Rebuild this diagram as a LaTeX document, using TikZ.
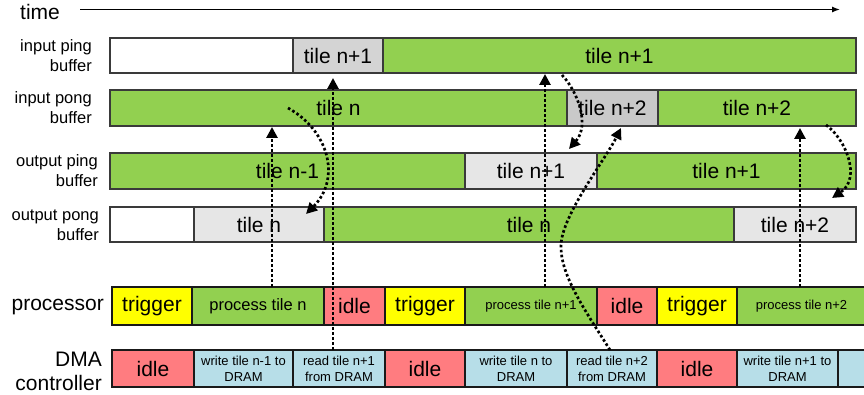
\documentclass[tikz,border=0pt]{standalone}
\usepackage{fontspec}
\setmainfont{Liberation Sans}
\usetikzlibrary{arrows.meta}

\definecolor{tgreen}{HTML}{92D050}
\definecolor{pinggray}{HTML}{D4D4D4}
\definecolor{ponggray}{HTML}{C9C9C9}
\definecolor{outgray}{HTML}{E6E6E6}
\definecolor{tyellow}{HTML}{FFFF00}
\definecolor{tred}{HTML}{FF7C80}
\definecolor{tblue}{HTML}{B7DEE8}
\definecolor{edgegray}{HTML}{3A3A3A}

% one timeline segment: name, x-left, x-right, y-top, y-bottom, style, text
\newcommand{\seg}[7]{%
  \node[#6, minimum width={#3-#2}, minimum height={#5-#4}]
    (#1) at ({(#2+#3)/2},{(#4+#5)/2}) {#7};}

\tikzset{
  bufbox/.style={draw=edgegray, line width=1.2pt, inner sep=0pt, outer sep=0pt,
    align=center, font=\fontsize{21}{24}\selectfont},
  unitbox/.style={draw=black!90, line width=2pt, inner sep=0pt, outer sep=0pt,
    align=center, font=\fontsize{21}{24}\selectfont},
  small/.style={font=\fontsize{13}{16}\selectfont},
  mid/.style={font=\fontsize{16.5}{19}\selectfont},
  rowlabel/.style={anchor=east, align=right, inner sep=0pt,
    font=\fontsize{16.5}{20}\selectfont},
  unitlabel/.style={anchor=east, align=right, inner sep=0pt,
    font=\fontsize{21}{23}\selectfont},
  handoff/.style={line width=2.7pt, dash pattern=on 2.6pt off 2.4pt,
    -{Triangle[length=11pt,width=11pt]}},
}

\begin{document}
\begin{tikzpicture}[x=1pt, y=-1pt]
\useasboundingbox (0,0) rectangle (864,395);

% time axis
\node[font=\fontsize{21}{24}\selectfont, inner sep=0pt] (timelbl) at (40,12) {time};
\coordinate (axisL) at (80,9.5);
\coordinate (axisR) at (840,9.5);
\draw[line width=1.2pt, -{Latex[length=8pt,width=6pt]}] (axisL) -- (axisR);

% row labels
\node[rowlabel] (lab1) at (92,56) {input ping\\buffer};
\node[rowlabel] (lab2) at (92,108) {input pong\\buffer};
\node[rowlabel] (lab3) at (98,171) {output ping\\buffer};
\node[rowlabel] (lab4) at (99,225) {output pong\\buffer};
\node[unitlabel] (lab5) at (104,307) {processor};
\node[unitlabel, font=\fontsize{21}{24}\selectfont] (lab6) at (102,371) {DMA\\controller};

% input ping buffer
\seg{r1a}{110}{293}{38}{73}{bufbox, fill=white}{}
\seg{r1b}{293}{383}{38}{73}{bufbox, fill=pinggray}{tile n+1}
\seg{r1c}{383}{856}{38}{73}{bufbox, fill=tgreen}{tile n+1}

% input pong buffer
\seg{r2a}{110}{567}{90}{126}{bufbox, fill=tgreen}{tile n}
\seg{r2b}{567}{658}{90}{126}{bufbox, fill=ponggray}{tile n+2}
\seg{r2c}{658}{856}{90}{126}{bufbox, fill=tgreen}{tile n+2}

% output ping buffer
\seg{r3a}{110}{465}{153}{189}{bufbox, fill=tgreen}{tile n-1}
\seg{r3b}{465}{597}{153}{189}{bufbox, fill=outgray}{tile n+1}
\seg{r3c}{597}{856}{153}{189}{bufbox, fill=tgreen}{tile n+1}

% output pong buffer
\seg{r4a}{110}{194}{207}{242}{bufbox, fill=white}{}
\seg{r4b}{194}{324}{207}{242}{bufbox, fill=outgray}{tile n}
\seg{r4c}{324}{734}{207}{242}{bufbox, fill=tgreen}{tile n}
\seg{r4d}{734}{856}{207}{242}{bufbox, fill=outgray}{tile n+2}

% processor
\seg{p1}{112}{192}{287}{325}{unitbox, fill=tyellow}{trigger}
\seg{p2}{192}{324}{287}{325}{unitbox, fill=tgreen, mid}{process tile n}
\seg{p3}{324}{385}{287}{325}{unitbox, fill=tred}{idle}
\seg{p4}{385}{465}{287}{325}{unitbox, fill=tyellow}{trigger}
\seg{p5}{465}{597}{287}{325}{unitbox, fill=tgreen, small}{process tile n+1}
\seg{p6}{597}{657}{287}{325}{unitbox, fill=tred}{idle}
\seg{p7}{657}{737}{287}{325}{unitbox, fill=tyellow}{trigger}
\seg{p8}{737}{866}{287}{325}{unitbox, fill=tgreen, small}{process tile n+2}

% DMA controller
\seg{d1}{112}{194}{350}{387}{unitbox, fill=tred}{idle}
\seg{d2}{194}{293}{350}{387}{unitbox, fill=tblue, small}{write tile n-1 to\\DRAM}
\seg{d3}{293}{385}{350}{387}{unitbox, fill=tblue, small}{read tile n+1\\from DRAM}
\seg{d4}{385}{465}{350}{387}{unitbox, fill=tred}{idle}
\seg{d5}{465}{567}{350}{387}{unitbox, fill=tblue, small}{write tile n to\\DRAM}
\seg{d6}{567}{657}{350}{387}{unitbox, fill=tblue, small}{read tile n+2\\from DRAM}
\seg{d7}{657}{737}{350}{387}{unitbox, fill=tred}{idle}
\seg{d8}{737}{838}{350}{387}{unitbox, fill=tblue, small}{write tile n+1 to\\DRAM}
\seg{d9}{838}{868}{350}{387}{unitbox, fill=tblue}{}

% hand-off points
\coordinate (h1s) at (272,287);  \coordinate (h1e) at (272,127);
\coordinate (h2s) at (333,350);  \coordinate (h2e) at (333,78);
\coordinate (h3s) at (288,108);  \coordinate (h3e) at (306,214);
\coordinate (h4s) at (545,287);  \coordinate (h4e) at (545,74);
\coordinate (h5s) at (562,75);   \coordinate (h5e) at (569,149);
\coordinate (h6s) at (610,350);  \coordinate (h6m) at (561,245);
\coordinate (h6e) at (621,128);
\coordinate (h7s) at (800,287);  \coordinate (h7e) at (800,128);
\coordinate (h8s) at (826,125);  \coordinate (h8e) at (832,198);

% dotted hand-off arrows
\draw[handoff] (h1s) -- (h1e);
\draw[handoff] (h2s) -- (h2e);
\draw[handoff] (h3s) .. controls (328,130) and (342,178) .. (h3e);
\draw[handoff] (h4s) -- (h4e);
\draw[handoff] (h5s) .. controls (578,92) and (590,125) .. (h5e);
\draw[handoff] (h6s) .. controls (585,310) and (560,275) .. (h6m)
                     .. controls (562,215) and (605,160) .. (h6e);
\draw[handoff] (h7s) -- (h7e);
\draw[handoff] (h8s) .. controls (845,138) and (862,178) .. (h8e);
\end{tikzpicture}
\end{document}
